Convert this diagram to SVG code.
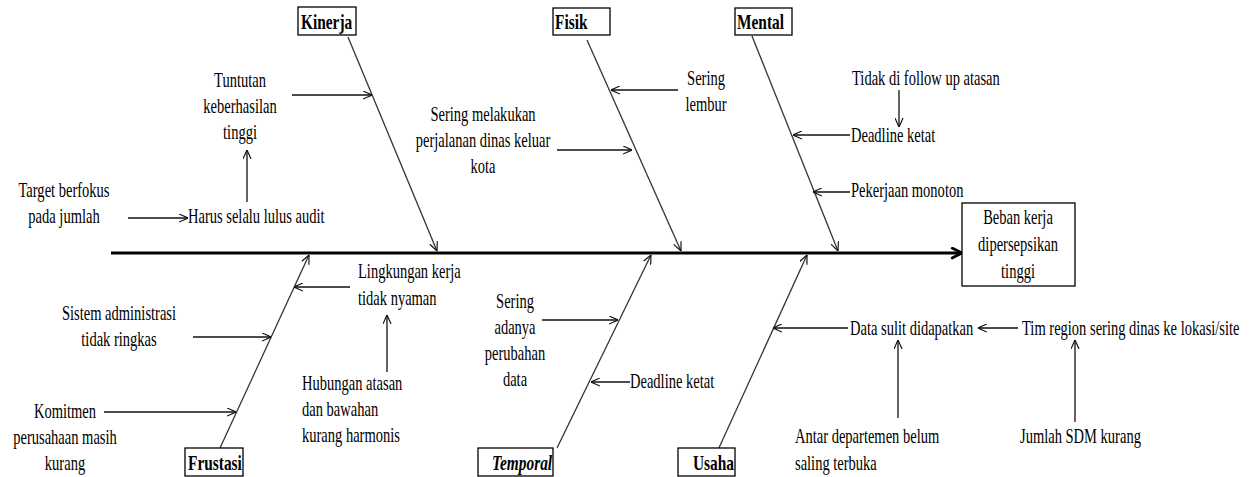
<svg xmlns="http://www.w3.org/2000/svg" width="1250" height="477" viewBox="0 0 1250 477">
<style>
.t{font-family:"Liberation Serif","Times New Roman",serif;font-size:22px;fill:#000}
.b{font-family:"Liberation Serif","Times New Roman",serif;font-size:22px;font-weight:bold;fill:#000}
.box{fill:#fff;stroke:#000;stroke-width:1.3}
.ln{stroke:#111;stroke-width:1.3;fill:none}
.bone{stroke:#333;stroke-width:1.3;fill:none}
.spine{stroke:#000;stroke-width:3.2;fill:none}
</style>
<defs>
<marker id="a" viewBox="0 0 10 10" refX="10" refY="5" markerWidth="9" markerHeight="9" markerUnits="userSpaceOnUse" orient="auto">
<path d="M0,0.5 L10,5 L0,9.5" fill="none" stroke="#111" stroke-width="1.3"/>
</marker>
<marker id="s" viewBox="0 0 12 12" refX="11" refY="6" markerWidth="13" markerHeight="13" markerUnits="userSpaceOnUse" orient="auto">
<path d="M1,1 L11,6 L1,11" fill="none" stroke="#000" stroke-width="2.6"/>
</marker>
</defs>
<rect width="1250" height="477" fill="#fff"/>

<g id="connectors">
<line class="spine" x1="111" y1="253" x2="962" y2="253" marker-end="url(#s)"/>
<line class="bone" x1="348" y1="37" x2="437" y2="251" marker-end="url(#a)"/>
<line class="bone" x1="587" y1="40" x2="681" y2="251" marker-end="url(#a)"/>
<line class="bone" x1="752" y1="36" x2="838" y2="251" marker-end="url(#a)"/>
<line class="bone" x1="220" y1="448" x2="309" y2="255" marker-end="url(#a)"/>
<line class="bone" x1="557" y1="448" x2="651" y2="255" marker-end="url(#a)"/>
<line class="bone" x1="718" y1="450" x2="807" y2="255" marker-end="url(#a)"/>
<line class="ln" x1="292" y1="95" x2="372" y2="95" marker-end="url(#a)"/>
<line class="ln" x1="247" y1="202" x2="247" y2="150" marker-end="url(#a)"/>
<line class="ln" x1="128" y1="218" x2="188" y2="218" marker-end="url(#a)"/>
<line class="ln" x1="557" y1="150" x2="632" y2="150" marker-end="url(#a)"/>
<line class="ln" x1="678" y1="90" x2="611" y2="90" marker-end="url(#a)"/>
<line class="ln" x1="899" y1="90" x2="899" y2="127" marker-end="url(#a)"/>
<line class="ln" x1="850" y1="135" x2="793" y2="135" marker-end="url(#a)"/>
<line class="ln" x1="850" y1="192" x2="813" y2="192" marker-end="url(#a)"/>
<line class="ln" x1="350" y1="287" x2="294" y2="287" marker-end="url(#a)"/>
<line class="ln" x1="387" y1="372" x2="387" y2="315" marker-end="url(#a)"/>
<line class="ln" x1="193" y1="337" x2="271" y2="337" marker-end="url(#a)"/>
<line class="ln" x1="104" y1="412" x2="236" y2="412" marker-end="url(#a)"/>
<line class="ln" x1="542" y1="320" x2="618" y2="320" marker-end="url(#a)"/>
<line class="ln" x1="630" y1="382" x2="591" y2="382" marker-end="url(#a)"/>
<line class="ln" x1="848" y1="328" x2="773" y2="328" marker-end="url(#a)"/>
<line class="ln" x1="1018" y1="328" x2="978" y2="328" marker-end="url(#a)"/>
<line class="ln" x1="898" y1="418" x2="898" y2="340" marker-end="url(#a)"/>
<line class="ln" x1="1075" y1="422" x2="1075" y2="340" marker-end="url(#a)"/>
</g>

<g id="effect">
<rect class="box" x="962" y="203" width="113" height="83"/>
<text class="t" transform="translate(1018,224) scale(0.66,1)" text-anchor="middle"><tspan x="0">Beban kerja</tspan><tspan x="0" dy="27">dipersepsikan</tspan><tspan x="0" dy="27">tinggi</tspan></text>
</g>

<g id="cat-kinerja">
<rect class="box" x="298" y="7" width="58" height="28"/>
<text class="b" transform="translate(301,29) scale(0.7,1)">Kinerja</text>
</g>
<g id="cat-fisik">
<rect class="box" x="553" y="8" width="57" height="27"/>
<text class="b" transform="translate(555,29) scale(0.7,1)">Fisik</text>
</g>
<g id="cat-mental">
<rect class="box" x="735" y="8" width="57" height="27"/>
<text class="b" transform="translate(737,29) scale(0.7,1)">Mental</text>
</g>
<g id="cat-frustasi">
<rect class="box" x="185" y="448" width="58" height="28"/>
<text class="b" transform="translate(188,470) scale(0.7,1)">Frustasi</text>
</g>
<g id="cat-temporal">
<rect class="box" x="478" y="448" width="75" height="28"/>
<text class="b" transform="translate(492,470) scale(0.7,1)" font-style="italic">Temporal</text>
</g>
<g id="cat-usaha">
<rect class="box" x="678" y="448" width="57" height="28"/>
<text class="b" transform="translate(693,470) scale(0.7,1)">Usaha</text>
</g>

<g id="c-tuntutan">
<text class="t" transform="translate(240,87) scale(0.66,1)" text-anchor="middle"><tspan x="0">Tuntutan</tspan><tspan x="0" dy="26">keberhasilan</tspan><tspan x="0" dy="26">tinggi</tspan></text>
</g>
<g id="c-target">
<text class="t" transform="translate(64,197) scale(0.66,1)" text-anchor="middle"><tspan x="0">Target berfokus</tspan><tspan x="0" dy="26">pada jumlah</tspan></text>
</g>
<g id="c-harus">
<text class="t" transform="translate(188,223) scale(0.66,1)">Harus selalu lulus audit</text>
</g>
<g id="c-perjalanan">
<text class="t" transform="translate(483,121) scale(0.66,1)" text-anchor="middle"><tspan x="0">Sering melakukan</tspan><tspan x="0" dy="26">perjalanan dinas keluar</tspan><tspan x="0" dy="26">kota</tspan></text>
</g>
<g id="c-lembur">
<text class="t" transform="translate(706,85) scale(0.66,1)" text-anchor="middle"><tspan x="0">Sering</tspan><tspan x="0" dy="26">lembur</tspan></text>
</g>
<g id="c-followup">
<text class="t" transform="translate(852,85) scale(0.66,1)">Tidak di follow up atasan</text>
</g>
<g id="c-deadline1">
<text class="t" transform="translate(851,142) scale(0.66,1)">Deadline ketat</text>
</g>
<g id="c-monoton">
<text class="t" transform="translate(851,197) scale(0.66,1)">Pekerjaan monoton</text>
</g>
<g id="c-lingkungan">
<text class="t" transform="translate(358,278) scale(0.66,1)"><tspan x="0">Lingkungan kerja</tspan><tspan x="0" dy="27">tidak nyaman</tspan></text>
</g>
<g id="c-hubungan">
<text class="t" transform="translate(302,390) scale(0.66,1)"><tspan x="0">Hubungan atasan</tspan><tspan x="0" dy="26">dan bawahan</tspan><tspan x="0" dy="26">kurang harmonis</tspan></text>
</g>
<g id="c-sistem">
<text class="t" transform="translate(119,320) scale(0.66,1)" text-anchor="middle"><tspan x="0">Sistem administrasi</tspan><tspan x="0" dy="26">tidak ringkas</tspan></text>
</g>
<g id="c-komitmen">
<text class="t" transform="translate(65,418) scale(0.66,1)" text-anchor="middle"><tspan x="0">Komitmen</tspan><tspan x="0" dy="26">perusahaan masih</tspan><tspan x="0" dy="26">kurang</tspan></text>
</g>
<g id="c-perubahan">
<text class="t" transform="translate(515,308) scale(0.66,1)" text-anchor="middle"><tspan x="0">Sering</tspan><tspan x="0" dy="26">adanya</tspan><tspan x="0" dy="26">perubahan</tspan><tspan x="0" dy="26">data</tspan></text>
</g>
<g id="c-deadline2">
<text class="t" transform="translate(630,388) scale(0.66,1)">Deadline ketat</text>
</g>
<g id="c-datasulit">
<text class="t" transform="translate(850,335) scale(0.66,1)">Data sulit didapatkan</text>
</g>
<g id="c-timregion">
<text class="t" transform="translate(1022,335) scale(0.66,1)">Tim region sering dinas ke lokasi/site</text>
</g>
<g id="c-antar">
<text class="t" transform="translate(795,443) scale(0.66,1)"><tspan x="0">Antar departemen belum</tspan><tspan x="0" dy="27">saling terbuka</tspan></text>
</g>
<g id="c-sdm">
<text class="t" transform="translate(1020,443) scale(0.66,1)">Jumlah SDM kurang</text>
</g>
</svg>
